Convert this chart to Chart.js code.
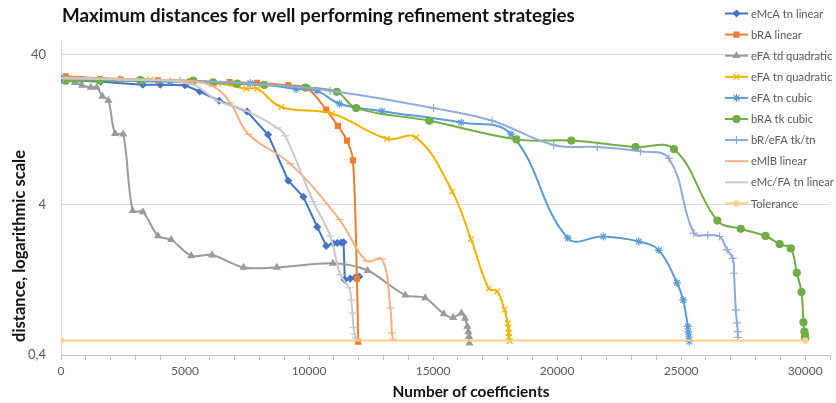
<!DOCTYPE html>
<html>
<head>
<meta charset="utf-8">
<script src="https://cdn.jsdelivr.net/npm/chart.js@4.4.1/dist/chart.umd.min.js"></script>
<style>
  html, body { margin: 0; padding: 0; background: #fff; }
  #wrap { width: 836px; height: 403px; }
</style>
</head>
<body>
<div id="wrap"><canvas id="chart" width="836" height="403"></canvas></div>
<script>
// text
const chartTitle = 'Maximum distances for well performing refinement strategies';
const xTitle = 'Number of coefficients';
const yTitle = 'distance, logarithmic scale';

// axis ticks
const xTickLabels = [0, 5000, 10000, 15000, 20000, 25000, 30000];
const yTickValues = [0.4, 4, 40];
const yTickLabels = ['0,4', '4', '40'];

const seriesNames = ['eMcA tn linear', 'bRA linear', 'eFA td quadratic', 'eFA tn quadratic', 'eFA tn cubic',
  'bRA tk cubic', 'bR/eFA tk/tn', 'eMlB linear', 'eMc/FA tn linear', 'Tolerance'];

// series values
const eMcaX = [50, 1600, 3300, 4000, 5000, 5600, 6380, 7500, 8350, 9160, 9770, 10330, 10690, 10980, 11140, 11300, 11390, 11440, 11660, 11860, 12020];
const eMcaY = [27.2, 26.4, 25.2, 25.2, 25.0, 22.7, 19.7, 16.7, 11.7, 5.78, 4.52, 2.85, 2.13, 2.21, 2.23, 2.24, 2.25, 1.27, 1.29, 1.31, 1.33];

const braLinX = [190, 2400, 3900, 5200, 6800, 7900, 9160, 9930, 10690, 11160, 11530, 11770, 11930, 11980];
const braLinY = [28.7, 27.3, 26.9, 26.5, 26.2, 25.9, 25.0, 23.9, 17.2, 13.4, 10.7, 7.9, 1.29, 0.49];

const efaTdX = [190, 560, 850, 1200, 1440, 1670, 1910, 2180, 2510, 2890, 3300, 3910, 4440, 5250, 6090, 7360, 8700, 10960, 12360, 13880, 14680, 15430, 15810, 16140, 16290, 16380, 16420, 16450, 16460];
const efaTdY = [27.2, 26.0, 24.9, 24.2, 24.2, 21.1, 19.8, 11.9, 11.8, 3.65, 3.59, 2.48, 2.34, 1.83, 1.85, 1.53, 1.53, 1.63, 1.46, 1.0, 0.96, 0.75, 0.71, 0.76, 0.70, 0.62, 0.57, 0.53, 0.48];

const efaQuadX = [100, 1570, 3590, 5200, 6330, 7470, 7910, 8880, 10920, 13140, 14320, 15770, 16530, 17240, 17580, 17880, 18010, 18040, 18050, 18060, 18090];
const efaQuadY = [28.1, 27.7, 27.2, 26.6, 25.8, 23.7, 23.7, 17.9, 16.2, 11.0, 11.2, 4.91, 2.36, 1.11, 1.06, 0.80, 0.65, 0.605, 0.56, 0.527, 0.496];

const efaCubX = [100, 770, 3310, 4400, 7630, 9480, 10310, 11230, 12940, 16130, 18140, 20430, 21860, 23290, 24100, 24830, 25080, 25270, 25290, 25310, 25330];
const efaCubY = [28.1, 27.2, 26.6, 26.4, 25.8, 23.6, 23.0, 18.8, 16.8, 14.1, 11.8, 2.40, 2.46, 2.28, 1.99, 1.21, 0.93, 0.62, 0.57, 0.527, 0.492];

const braTkX = [190, 1570, 3190, 5330, 6130, 7100, 8190, 9850, 11120, 11900, 14850, 18360, 20570, 23160, 24710, 26460, 27400, 28400, 28970, 29420, 29660, 29850, 29930, 29970, 29990, 30000];
const braTkY = [26.8, 27.0, 27.0, 26.8, 26.1, 25.6, 25.1, 24.1, 22.6, 17.6, 14.5, 10.9, 10.7, 9.7, 9.4, 3.14, 2.77, 2.48, 2.19, 2.05, 1.41, 1.05, 0.66, 0.572, 0.54, 0.52];

const brEfaX = [100, 2380, 4800, 7630, 10850, 15020, 17380, 19860, 21620, 23360, 24510, 25510, 26070, 26550, 26850, 27080, 27130, 27200, 27250, 27280, 27290];
const brEfaY = [27.9, 27.5, 26.8, 25.6, 23.0, 17.6, 14.5, 10.0, 9.7, 9.07, 8.14, 2.59, 2.51, 2.46, 2.01, 1.76, 1.40, 0.80, 0.654, 0.572, 0.523];

const emlbX = [100, 3590, 5200, 6130, 6820, 7560, 9240, 11220, 12310, 12940, 13280, 13340, 13380];
const emlbY = [28.1, 27.2, 26.6, 24.6, 19.1, 11.8, 7.5, 3.19, 1.69, 1.74, 0.82, 0.56, 0.51];

const emcFaX = [100, 2380, 5200, 6340, 7510, 8720, 9040, 10170, 10850, 11260, 11620, 11700, 11750, 11790, 11840, 11880, 11900];
const emcFaY = [27.7, 27.2, 25.6, 19.6, 16.8, 13.0, 11.5, 4.19, 2.48, 1.37, 1.12, 0.93, 0.76, 0.61, 0.55, 0.52, 0.50];

const toleranceX = [0, 30000];
const toleranceY = [0.5, 0.5];

const seriesX = [eMcaX, braLinX, efaTdX, efaQuadX, efaCubX, braTkX, brEfaX, emlbX, emcFaX, toleranceX];
const seriesY = [eMcaY, braLinY, efaTdY, efaQuadY, efaCubY, braTkY, brEfaY, emlbY, emcFaY, toleranceY];

// look of each series
const colors = ['#4472c4', '#ed7d31', '#9a9a9a', '#f2b300', '#5b9bd5', '#70ad47', '#8faadc', '#f4b183', '#c9c9c9', '#ffd08a'];
const markers = ['rectRot', 'rect', 'triangle', 'crossRot', 'star', 'circle', 'cross', 'line', 'line', 'circle'];
const markerSize = [3.2, 3.5, 3.5, 4, 4, 3.5, 4, 4, 4, 2.5];
const smooth = [0, 0.3, 0.3, 0.4, 0.4, 0.4, 0.4, 0.4, 0.4, 0];

const datasets = seriesNames.map((name, i) => ({
  label: name,
  data: seriesX[i].map((x, j) => ({ x: x, y: seriesY[i][j] })),
  showLine: true,
  borderColor: colors[i],
  backgroundColor: colors[i],
  pointBackgroundColor: colors[i],
  pointBorderColor: colors[i],
  borderWidth: 2,
  pointStyle: markers[i],
  pointRadius: markerSize[i],
  pointBorderWidth: 1.2,
  tension: smooth[i],
  order: seriesNames.length - i
}));

function fitFont(ctx, text, width, weight) {
  ctx.font = weight + ' 20px Lato';
  const w = ctx.measureText(text).width;
  return 20 * width / w;
}

// title, axis titles and legend drawn over the plot like the original
const overlay = {
  id: 'overlay',
  afterDraw(chart) {
    const ctx = chart.ctx;
    ctx.save();
    ctx.fillStyle = '#111';
    ctx.textBaseline = 'middle';

    ctx.textAlign = 'left';
    ctx.font = 'bold ' + fitFont(ctx, chartTitle, 513, 'bold') + 'px Lato';
    ctx.fillText(chartTitle, 62, 16);

    ctx.textAlign = 'center';
    ctx.font = 'bold ' + fitFont(ctx, xTitle, 157, 'bold') + 'px Lato';
    ctx.fillText(xTitle, 471, 392);

    ctx.save();
    ctx.translate(20, 246);
    ctx.rotate(-Math.PI / 2);
    ctx.font = 'bold ' + fitFont(ctx, yTitle, 192, 'bold') + 'px Lato';
    ctx.fillText(yTitle, 0, 0);
    ctx.restore();

    // legend
    ctx.textAlign = 'left';
    ctx.font = fitFont(ctx, 'eMc/FA tn linear', 83, 'normal') + 'px Lato';
    chart.data.datasets.forEach((ds, i) => {
      const y = 13.5 + i * 21.1;
      ctx.strokeStyle = ds.borderColor;
      ctx.fillStyle = ds.borderColor;
      ctx.lineWidth = 2;
      ctx.beginPath();
      ctx.moveTo(725, y);
      ctx.lineTo(748, y);
      ctx.stroke();
      ctx.lineWidth = 1.2;
      Chart.helpers.drawPoint(ctx, { pointStyle: ds.pointStyle, radius: ds.pointRadius, rotation: 0, borderWidth: 1.2 }, 736.5, y);
      ctx.fillStyle = '#595959';
      ctx.fillText(ds.label, 751, y + 0.5);
    });
    ctx.restore();
  }
};

new Chart(document.getElementById('chart'), {
  type: 'scatter',
  data: { datasets: datasets },
  options: {
    responsive: false,
    animation: false,
    layout: { padding: { top: 40, left: 0, right: 6, bottom: 0 } },
    plugins: {
      legend: { display: false },
      title: { display: false },
      tooltip: { enabled: false }
    },
    scales: {
      x: {
        type: 'linear',
        min: 0,
        max: 31000,
        afterFit: s => { s.height = 48; },
        ticks: {
          stepSize: 1000,
          autoSkip: false,
          maxRotation: 0,
          padding: 4,
          color: '#595959',
          font: { family: 'Lato', size: 12 },
          callback: v => xTickLabels.includes(v) ? String(v) : ''
        },
        grid: { drawOnChartArea: false, drawTicks: true, tickLength: 5, color: '#bfbfbf' },
        border: { display: true, color: '#bfbfbf', width: 1 }
      },
      y: {
        type: 'logarithmic',
        min: 0.4,
        max: 50,
        afterFit: s => { s.width = 61; },
        afterBuildTicks: s => { s.ticks = yTickValues.map(v => ({ value: v })); },
        ticks: {
          padding: 15,
          color: '#595959',
          font: { family: 'Lato', size: 13 },
          callback: (v, i) => yTickLabels[i]
        },
        grid: { drawTicks: false, color: '#d9d9d9' },
        border: { display: true, color: '#d9d9d9' }
      }
    }
  },
  plugins: [overlay]
});
</script>
</body>
</html>
